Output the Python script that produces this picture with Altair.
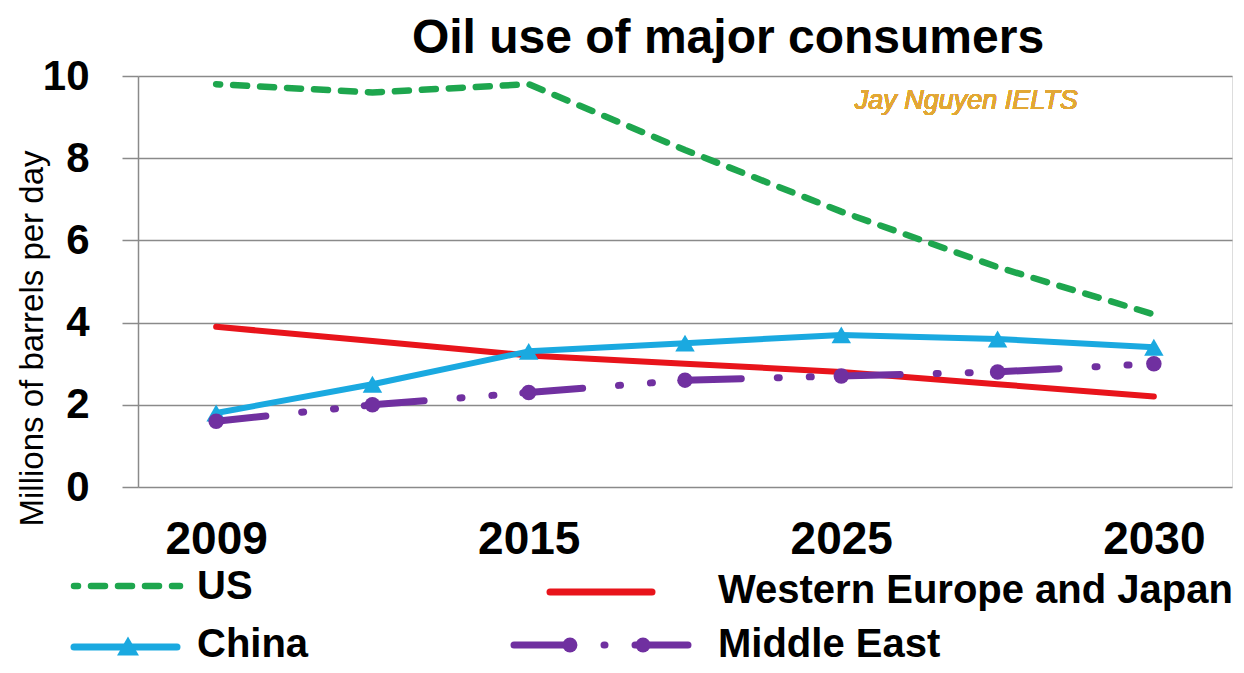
import altair as alt
import pandas as pd

# ---- data ----
points = [0, 1, 2, 3, 4, 5, 6]
tick_positions = [0, 2, 4, 6]
tick_labels = ["2009", "2015", "2025", "2030"]
series_names = ["US", "Western Europe and Japan", "China", "Middle East"]
us = [9.8, 9.6, 9.8, 8.2, 6.7, 5.35, 4.2]
weu_japan = [3.9, 3.55, 3.2, 3.0, 2.8, 2.5, 2.2]
china = [1.8, 2.5, 3.3, 3.5, 3.7, 3.6, 3.4]
middle_east = [1.6, 2.0, 2.3, 2.6, 2.7, 2.8, 3.0]
y_ticks = [0, 2, 4, 6, 8, 10]
watermark_text = "Jay Nguyen IELTS"
title_text = "Oil use of major consumers"
y_title = "Millions of barrels per day"

GREEN, RED, BLUE, PURPLE = "#1EA64E", "#E8141B", "#1AA9E0", "#7030A0"
US_DASH = [14, 13]
ME_DASH = [60, 36, 2, 30, 2, 29]

rows = []
for name, vals in zip(series_names, [us, weu_japan, china, middle_east]):
    for p, v in zip(points, vals):
        rows.append({"idx": p, "value": v, "series": name})
df = pd.DataFrame(rows)

label_lookup = {p: l for p, l in zip(tick_positions, tick_labels)}
label_arr = "[" + ",".join("'" + label_lookup.get(p, "") + "'" for p in points) + "]"

FONT = "Liberation Sans"
GRAY = "#8a8a8a"

x_enc = alt.X(
    "idx:Q",
    scale=alt.Scale(domain=[-0.5, 6.5], nice=False, zero=False),
    axis=alt.Axis(
        values=tick_positions,
        labelExpr=label_arr + "[datum.value]",
        title=None,
        grid=False,
        domain=False,
        ticks=False,
        labelFont=FONT,
        labelFontSize=46,
        labelFontWeight="bold",
        labelColor="black",
        labelPadding=30,
    ),
)
y_enc = alt.Y(
    "value:Q",
    scale=alt.Scale(domain=[0, 10], nice=False),
    axis=alt.Axis(
        values=y_ticks,
        title=y_title,
        titleFont=FONT,
        titleFontSize=33,
        titleFontWeight="normal",
        titleColor="black",
        titleAngle=270,
        titleAlign="center",
        titleBaseline="middle",
        titleX=-106,
        titleY=262,
        labelFont=FONT,
        labelFontSize=42,
        labelFontWeight="bold",
        labelColor="black",
        labelPadding=33,
        tickSize=16,
        tickColor=GRAY,
        tickWidth=1.5,
        domainColor=GRAY,
        domainWidth=1.5,
        grid=True,
        gridColor=GRAY,
        gridWidth=1.5,
    ),
)

base = alt.Chart(df)


def series(name):
    return base.transform_filter(alt.datum.series == name)


us_line = series("US").mark_line(
    color=GREEN, strokeWidth=6.5, strokeCap="round", strokeDash=US_DASH, strokeDashOffset=10
).encode(x=x_enc, y=y_enc)
we_line = series("Western Europe and Japan").mark_line(
    color=RED, strokeWidth=6, strokeCap="round"
).encode(x="idx:Q", y="value:Q")
cn_line = series("China").mark_line(
    color=BLUE, strokeWidth=6, strokeCap="round", strokeJoin="round"
).encode(x="idx:Q", y="value:Q")
cn_pts = series("China").mark_point(
    shape="triangle-up", filled=True, size=380, color=BLUE, opacity=1
).encode(x="idx:Q", y="value:Q")
me_line = series("Middle East").mark_line(
    color=PURPLE, strokeWidth=7, strokeCap="round", strokeDash=ME_DASH, strokeDashOffset=10
).encode(x="idx:Q", y="value:Q")
me_pts = series("Middle East").mark_point(
    shape="circle", filled=True, size=240, color=PURPLE, opacity=1
).encode(x="idx:Q", y="value:Q")

watermark = base.mark_text(
    text=watermark_text, font=FONT, fontSize=27, fontStyle="italic", color="#E2A735",
    align="center", baseline="middle"
).encode(x=alt.datum(4.8), y=alt.datum(9.4))

# ---- custom legend (2 x 2 layout as in the reference) ----
one = pd.DataFrame({"k": [0]})
leg = alt.Chart(one)
LFS = 40


def leg_text(name, px, py):
    return leg.mark_text(
        text=name, font=FONT, fontSize=LFS, fontWeight="bold", color="black", align="left", baseline="middle"
    ).encode(x=alt.value(px), y=alt.value(py))


r1, r2 = 510, 569
legend_layers = [
    leg.mark_rule(color=GREEN, strokeWidth=6.5, strokeCap="round", strokeDash=US_DASH, strokeDashOffset=10)
    .encode(x=alt.value(-64), x2=alt.value(42), y=alt.value(r1)),
    leg_text(series_names[0], 59, r1 + 1),
    leg.mark_rule(color=RED, strokeWidth=7, strokeCap="round")
    .encode(x=alt.value(412), x2=alt.value(514), y=alt.value(r1 + 6)),
    leg_text(series_names[1], 580, r1 + 5),
    leg.mark_rule(color=BLUE, strokeWidth=7, strokeCap="round")
    .encode(x=alt.value(-64), x2=alt.value(39), y=alt.value(r2 + 2)),
    leg.mark_point(shape="triangle-up", filled=True, size=480, color=BLUE, opacity=1)
    .encode(x=alt.value(-10), y=alt.value(r2 + 1)),
    leg_text(series_names[2], 59, r2),
    leg.mark_rule(color=PURPLE, strokeWidth=7, strokeCap="round", strokeDash=[58, 32, 1, 30, 1, 11, 45, 20])
    .encode(x=alt.value(376), x2=alt.value(550), y=alt.value(r2)),
    leg.mark_point(shape="circle", filled=True, size=220, color=PURPLE, opacity=1)
    .encode(x=alt.value(432), y=alt.value(r2)),
    leg.mark_point(shape="circle", filled=True, size=220, color=PURPLE, opacity=1)
    .encode(x=alt.value(505), y=alt.value(r2)),
    leg_text(series_names[3], 580, r2),
]

chart = alt.layer(
    us_line, we_line, cn_line, cn_pts, me_line, me_pts, watermark, *legend_layers
).properties(
    width=1094,
    height=411,
    title=alt.TitleParams(
        title_text, font=FONT, fontSize=48, fontWeight="bold", color="black",
        anchor="middle", dx=43, offset=-8,
    ),
    padding={"left": 130, "top": 68, "right": 2, "bottom": 178},
    autosize=alt.AutoSizeParams(type="none"),
).configure_view(stroke=None).configure(background="white")

chart.save("out.html", embed_options={"renderer": "svg", "actions": False})
